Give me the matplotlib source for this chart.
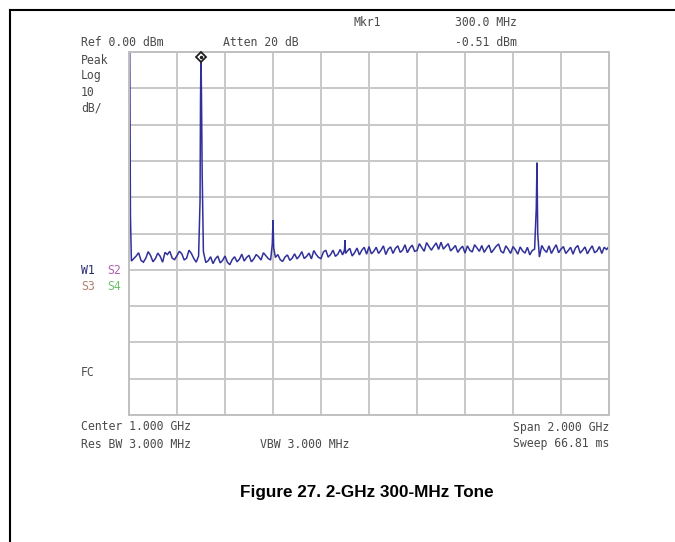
import numpy as np
import matplotlib
matplotlib.use("Agg")
import matplotlib.pyplot as plt
from matplotlib.lines import Line2D

# ---------------- data ----------------
ref_level_dbm = 0.0
db_per_div = 10
span_mhz = 2000
step_mhz = 10

noise_dbm = [
    -56.0, -57.6, -56.9, -56.2, -55.3, -57.4, -57.9, -56.8, -55.0, -56.1,
    -57.8, -56.9, -55.4, -56.3, -57.9, -55.2, -55.8, -54.9, -56.8, -57.2,
    -56.1, -54.9, -55.6, -57.3, -56.8, -54.6, -55.5, -56.9, -57.9, -56.2,
    -56.0, -55.0, -58.0, -57.5, -56.4, -58.3, -57.0, -56.2, -58.1, -57.4,
    -56.2, -57.9, -58.6, -57.2, -56.4, -57.8, -57.1, -55.7, -57.6, -56.6,
    -56.0, -57.8, -57.0, -55.8, -56.4, -57.3, -55.3, -56.1, -56.9, -57.3,
    -57.6, -56.6, -55.8, -57.2, -57.7, -56.5, -55.9, -57.4, -56.8, -55.6,
    -57.0, -56.2, -55.0, -56.9, -56.3, -55.4, -57.0, -54.7, -55.8, -56.6,
    -56.9, -55.1, -54.6, -56.5, -55.8, -54.6, -56.3, -55.7, -54.4, -55.9,
    -55.6, -54.8, -54.1, -56.2, -55.3, -54.0, -55.9, -54.6, -53.8, -55.7,
    -53.6, -55.6, -54.9, -53.8, -55.5, -54.6, -53.4, -55.8, -54.3, -53.7,
    -55.5, -54.1, -53.4, -55.2, -54.6, -53.1, -55.3, -54.0, -53.2, -54.9,
    -54.7, -52.8, -53.9, -54.9, -52.5, -53.6, -54.6, -53.5, -52.6, -54.4,
    -52.4, -54.3, -53.5, -52.8, -54.8, -54.1, -53.3, -55.2, -54.2, -53.5,
    -55.4, -53.4, -54.6, -55.1, -53.1, -54.0, -54.9, -53.3, -55.2, -54.1,
    -53.2, -55.3, -54.4, -53.5, -52.9, -54.9, -55.4, -53.4, -54.3, -55.5,
    -53.6, -54.5, -55.7, -53.7, -54.8, -55.4, -53.8, -55.9, -54.7, -54.3,
    -54.0, -56.5, -53.3, -54.5, -55.2, -53.4, -55.5, -54.2, -53.1, -55.3,
    -54.3, -53.6, -55.5, -54.7, -53.8, -55.7, -54.0, -53.3, -55.4, -54.6,
    -53.7, -55.6, -54.4, -53.4, -55.3, -54.8, -53.6, -55.5, -53.8, -54.4,
    -53.6,
]

spur_centers_mhz = [0, 300, 600, 900, 1700]
spur_freq_mhz = [3, 6, 296, 298, 300, 302, 305, 597, 600, 603, 898, 900, 902, 1697, 1700, 1703]
spur_dbm = [3.0, -45.0, -41.0, -13.0, -0.51, -12.0, -34.0, -53.0, -46.3, -54.0,
            -54.5, -51.8, -55.5, -43.0, -30.5, -50.0]

marker_freq_mhz = 300.0
marker_dbm = -0.51

# ---------------- build trace ----------------
noise_freq = np.arange(len(noise_dbm)) * step_mhz
noise_arr = np.array(noise_dbm)
keep = ~np.isin(noise_freq, spur_centers_mhz)
f_all = np.concatenate([noise_freq[keep], np.array(spur_freq_mhz, float)])
a_all = np.concatenate([noise_arr[keep], np.array(spur_dbm)])
order = np.argsort(f_all, kind="stable")
f_all, a_all = f_all[order], a_all[order]

# ---------------- figure ----------------
W, H = 675, 542
fig = plt.figure(figsize=(W / 100, H / 100), dpi=100)
fig.patch.set_facecolor("white")

def fx(x):
    return x / W

def fy(y):
    return 1 - y / H

left_px, right_px, top_px, bot_px = 129, 609, 52, 415
ax = fig.add_axes([fx(left_px), fy(bot_px), (right_px - left_px) / W, (bot_px - top_px) / H])
ax.set_xlim(0, span_mhz)
ax.set_ylim(ref_level_dbm - 10 * db_per_div, ref_level_dbm)
ax.set_xticks(np.arange(0, span_mhz + 1, span_mhz / 10))
ax.set_yticks(np.arange(ref_level_dbm - 10 * db_per_div, ref_level_dbm + 1, db_per_div))
ax.grid(True, color="#c8c8c8", linewidth=1.4)
ax.tick_params(length=0, labelbottom=False, labelleft=False)
for s in ax.spines.values():
    s.set_color("#c0c0c0")
    s.set_linewidth(1.4)
ax.set_axisbelow(True)

ax.plot(f_all, a_all, color="#30309a", linewidth=1.1, solid_joinstyle="miter")
ax.plot([marker_freq_mhz], [marker_dbm - 1.0], marker="D", markersize=5.5,
        mfc="white", mec="#202020", mew=1.3, clip_on=False, zorder=5)
ax.plot([marker_freq_mhz], [marker_dbm - 1.0], marker="o", markersize=1.5,
        color="#202020", clip_on=False, zorder=6)

# ---------------- annotation texts ----------------
mono = "DejaVu Sans Mono"
tc = "#4a4a4a"
fs = 8.3

def t(x, y, s, color=tc, ha="left"):
    fig.text(fx(x), fy(y), s, fontsize=fs, family=mono, color=color, ha=ha, va="center")

t(353, 22, "Mkr1")
t(455, 22, "300.0 MHz")
t(81, 43, "Ref 0.00 dBm")
t(223, 43, "Atten 20 dB")
t(455, 43, "-0.51 dBm")
t(81, 60, "Peak")
t(81, 76, "Log")
t(81, 92, "10")
t(81, 108, "dB/")
t(81, 270, "W1", color="#2a2a70")
t(107, 270, "S2", color="#b060b0")
t(81, 287, "S3", color="#b08070")
t(107, 287, "S4", color="#70c070")
t(81, 372, "FC")
t(81, 427, "Center 1.000 GHz")
t(609, 427, "Span 2.000 GHz", ha="right")
t(81, 444, "Res BW 3.000 MHz")
t(260, 444, "VBW 3.000 MHz")
t(609, 444, "Sweep 66.81 ms", ha="right")

fig.text(fx(367), fy(492), "Figure 27. 2-GHz 300-MHz Tone", fontsize=12.3,
         family="Liberation Sans", fontweight="bold", color="black",
         ha="center", va="center")

# frame lines (top and left)
fig.add_artist(Line2D([fx(10), 1.0], [fy(10), fy(10)], color="black", linewidth=1.5))
fig.add_artist(Line2D([fx(10), fx(10)], [fy(10), 0.0], color="black", linewidth=1.5))

fig.savefig("out.png", dpi=100)
